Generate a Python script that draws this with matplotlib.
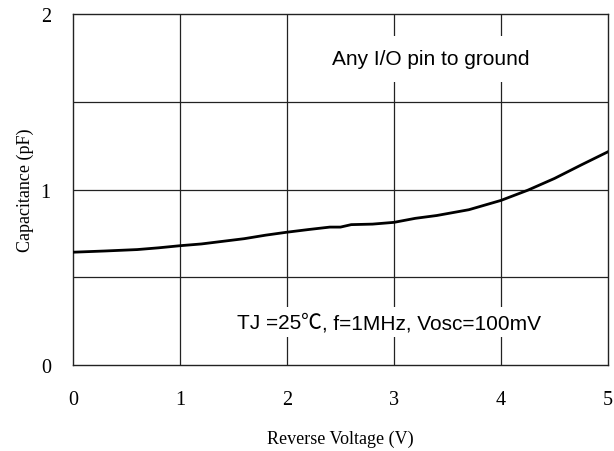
import numpy as np
import matplotlib
matplotlib.use("Agg")
import matplotlib.pyplot as plt
from matplotlib.offsetbox import TextArea, HPacker, AnnotationBbox

# Dane
voltage = [0.0, 0.3, 0.6, 0.8, 1.0, 1.2, 1.4, 1.6, 1.8, 2.0, 2.2, 2.4, 2.5, 2.6, 2.8, 3.0,
           3.2, 3.4, 3.7, 4.0, 4.25, 4.5, 4.75, 5.0]
capacitance = [0.643, 0.650, 0.658, 0.668, 0.680, 0.690, 0.705, 0.720, 0.740, 0.757, 0.772,
               0.786, 0.786, 0.800, 0.803, 0.813, 0.836, 0.852, 0.885, 0.938, 0.996, 1.063,
               1.140, 1.215]

x_ticks = [0, 1, 2, 3, 4, 5]
y_ticks = [0, 1, 2]
y_grid = [0.5, 1.0, 1.5]

fig = plt.figure(figsize=(6.14, 4.52), dpi=100)
ax = fig.add_axes([0.1189, 0.190, 0.8713, 0.777])

for x in x_ticks[1:-1]:
    ax.axvline(x, color="#222222", lw=0.9, zorder=1)
for y in y_grid:
    ax.axhline(y, color="#222222", lw=0.9, zorder=1)

ax.plot(voltage, capacitance, color="black", lw=2.0, zorder=3)

ax.set_xlim(0, 5)
ax.set_ylim(0, 2)
ax.set_xticks(x_ticks)
ax.set_yticks(y_ticks)
ax.tick_params(length=0, labelsize=14.5)
ax.tick_params(axis="y", pad=16)
ax.tick_params(axis="x", pad=18)
for lab in ax.get_xticklabels() + ax.get_yticklabels():
    lab.set_family("Liberation Serif")
for s in ax.spines.values():
    s.set_linewidth(1.0)
    s.set_color("#222222")

ax.set_xlabel("Reverse Voltage (V)", family="Liberation Serif", fontsize=13, labelpad=15)
ax.set_ylabel("Capacitance (pF)", family="Liberation Serif", fontsize=13, labelpad=5)

box = dict(boxstyle="square,pad=0.65", fc="white", ec="none")
ax.text(3.34, 1.745, "Any I/O pin to ground", ha="center", va="center",
        fontsize=15, family="Liberation Sans", bbox=box, zorder=2)

# tekst z warunkami pomiaru, znak stopnia z czcionki CJK
sans = dict(fontsize=15, family="Liberation Sans")
cjk = dict(fontsize=15, family="Noto Sans CJK TC")
parts = HPacker(children=[TextArea("TJ =25", textprops=sans),
                          TextArea("\u2103", textprops=cjk),
                          TextArea(", f=1MHz, Vosc=100mV", textprops=sans)],
                sep=0, pad=0, align="baseline")
ab = AnnotationBbox(parts, (2.95, 0.245), xycoords="data", frameon=True,
                    pad=0.7, bboxprops=dict(boxstyle="square", fc="white", ec="none"),
                    zorder=2)
ax.add_artist(ab)

fig.savefig("out.png", dpi=100)
